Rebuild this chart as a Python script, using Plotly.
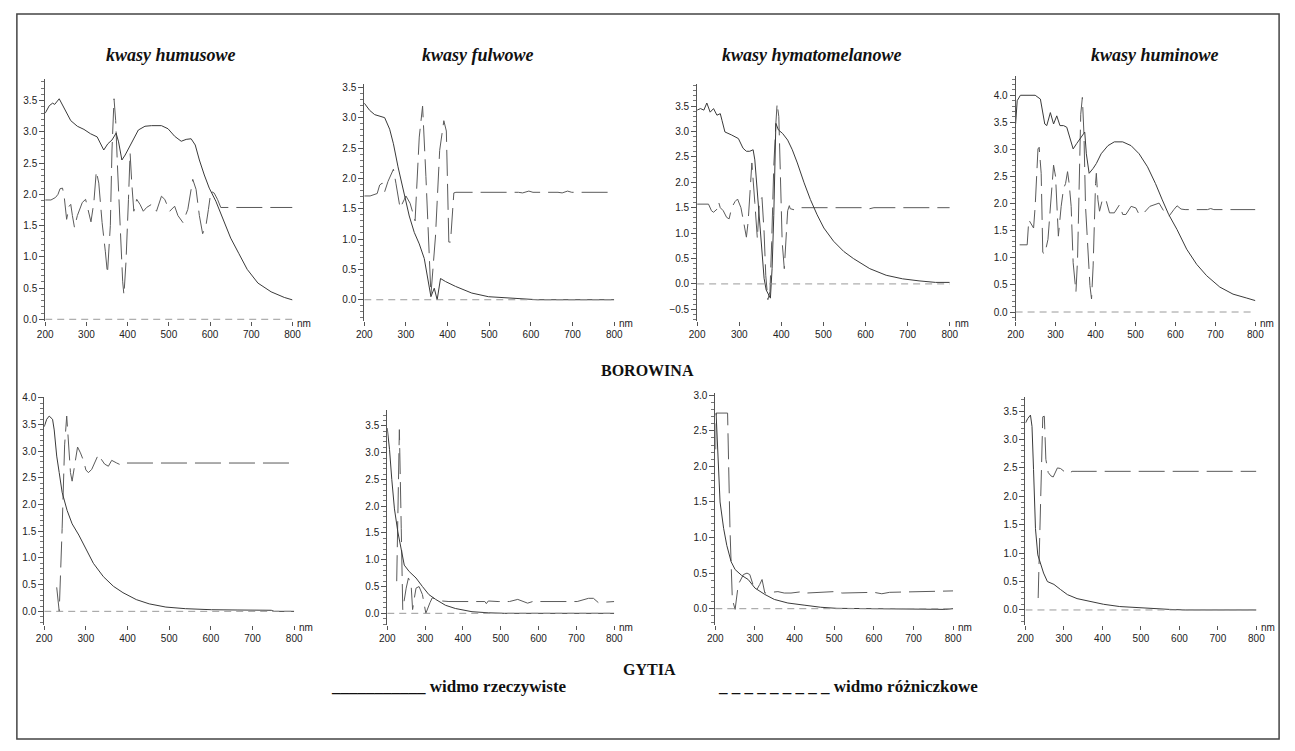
import plotly.graph_objects as go

# ---------------- data: (wavelength nm, value) readings ----------------
# BOROWINA
hum_bor_real = [(200,3.30),(210,3.42),(218,3.46),(223,3.44),(234,3.53),(246,3.39),(262,3.18),(278,3.09),(294,3.04),(310,2.97),(326,2.92),(342,2.71),(352,2.81),(362,2.87),(372,2.98),(378,2.84),(386,2.55),(394,2.63),(410,2.84),(426,3.03),(442,3.09),(458,3.10),(482,3.10),(498,3.05),(514,2.93),(530,2.85),(542,2.88),(554,2.89),(564,2.79),(574,2.55),(586,2.31),(598,2.10),(614,1.89),(630,1.62),(650,1.30),(670,1.05),(690,0.80),(716,0.58),(748,0.44),(780,0.35),(800,0.31)]
hum_bor_diff = [(200,1.91),(214,1.91),(225,1.95),(231,2.00),(236,2.09),(242,2.10),(246,1.97),(252,1.60),(258,1.81),(262,1.84),(266,1.66),(271,1.47),(278,1.66),(290,1.87),(298,1.92),(306,1.68),(311,1.56),(318,1.87),(324,2.37),(330,2.18),(338,1.55),(346,1.08),(351,0.73),(358,1.50),(362,2.71),(367,3.53),(371,3.18),(375,2.50),(382,1.44),(388,0.60),(391,0.39),(396,0.92),(402,1.92),(406,2.66),(410,2.18),(415,1.73),(422,1.92),(430,1.84),(438,1.73),(446,1.79),(458,1.84),(470,1.73),(482,1.97),(490,1.92),(502,1.73),(514,1.81),(522,1.66),(534,1.55),(546,1.76),(558,2.24),(566,2.08),(574,1.66),(582,1.37),(590,1.50),(596,1.76),(602,2.05),(610,2.02),(618,1.92),(626,1.79),(634,1.79),(700,1.79),(710,1.80),(720,1.79),(800,1.79)]

ful_bor_real = [(200,3.24),(213,3.12),(225,3.05),(237,3.03),(249,3.00),(261,2.81),(270,2.57),(281,2.19),(292,1.84),(308,1.38),(320,1.11),(332,0.92),(344,0.68),(352,0.35),(360,0.05),(368,0.19),(375,0.00),(383,0.35),(395,0.30),(419,0.22),(458,0.11),(498,0.05),(537,0.03),(577,0.01),(616,0.00),(800,0.00)]
ful_bor_diff = [(200,1.71),(214,1.71),(231,1.75),(237,1.89),(243,1.92),(249,1.78),(257,1.95),(270,2.15),(276,1.92),(286,1.51),(296,1.65),(300,1.71),(310,1.59),(316,1.43),(322,1.30),(332,2.68),(340,3.19),(348,2.03),(360,0.08),(371,1.05),(381,2.46),(391,2.95),(397,2.78),(403,0.95),(407,0.95),(415,1.76),(420,1.77),(570,1.77),(580,1.76),(595,1.79),(605,1.77),(665,1.77),(675,1.76),(688,1.79),(698,1.77),(800,1.77)]

hym_bor_real = [(200,3.42),(208,3.45),(216,3.42),(223,3.56),(231,3.38),(239,3.45),(247,3.32),(255,3.35),(259,3.22),(266,2.99),(282,2.93),(298,2.86),(309,2.67),(317,2.61),(325,2.61),(333,2.64),(337,2.44),(345,1.60),(353,0.76),(359,0.11),(364,-0.12),(370,-0.21),(374,-0.28),(378,0.30),(382,1.34),(387,3.16),(393,3.03),(403,2.96),(415,2.83),(426,2.64),(438,2.38),(454,1.99),(469,1.66),(485,1.36),(501,1.10),(524,0.84),(548,0.64),(571,0.50),(610,0.30),(649,0.17),(688,0.10),(727,0.06),(766,0.03),(800,0.03)]
hym_bor_diff = [(200,1.57),(227,1.57),(234,1.44),(239,1.41),(247,1.47),(251,1.61),(255,1.50),(262,1.44),(270,1.31),(276,1.28),(282,1.50),(290,1.62),(296,1.67),(304,1.50),(309,1.28),(313,1.08),(317,0.92),(321,1.21),(325,1.80),(330,2.38),(337,1.60),(343,0.89),(348,1.63),(354,1.70),(359,1.02),(363,0.17),(368,-0.31),(373,-0.15),(377,0.82),(382,2.31),(387,3.16),(390,3.55),(394,3.29),(398,1.99),(402,0.82),(407,0.30),(412,1.02),(415,1.44),(419,1.54),(421,1.48),(430,1.46),(440,1.50),(600,1.50),(610,1.48),(620,1.50),(800,1.50)]

hmn_bor_real = [(200,3.47),(204,3.90),(212,4.00),(249,4.00),(262,3.93),(273,3.47),(278,3.44),(287,3.68),(295,3.47),(303,3.62),(311,3.44),(320,3.44),(328,3.41),(336,3.23),(344,3.01),(353,3.11),(361,3.20),(373,3.32),(377,2.92),(384,2.56),(394,2.65),(402,2.74),(414,2.92),(431,3.07),(447,3.14),(468,3.14),(489,3.07),(509,2.92),(530,2.68),(550,2.37),(567,2.07),(583,1.80),(604,1.52),(628,1.16),(653,0.88),(678,0.67),(711,0.46),(744,0.33),(777,0.26),(800,0.21)]
hmn_bor_diff = [(210,1.24),(229,1.24),(233,1.70),(239,1.61),(245,1.55),(249,1.95),(256,3.01),(259,3.04),(264,2.56),(268,1.10),(273,1.07),(281,1.34),(291,2.31),(295,2.71),(300,2.50),(303,1.95),(307,1.40),(314,1.95),(320,2.28),(325,2.37),(330,2.59),(334,2.37),(339,1.95),(344,0.91),(351,0.37),(355,0.97),(359,2.62),(363,3.65),(367,3.96),(371,3.29),(375,1.95),(380,1.22),(386,0.49),(390,0.24),(394,0.85),(400,2.37),(402,2.56),(406,2.07),(410,1.86),(416,2.04),(422,2.10),(426,2.07),(435,1.83),(447,1.83),(460,1.98),(468,1.80),(476,1.80),(489,1.95),(501,1.92),(509,1.80),(521,1.83),(536,1.95),(548,1.98),(559,2.01),(571,1.86),(584,1.77),(596,1.89),(604,1.96),(614,1.90),(624,1.89),(680,1.89),(688,1.91),(696,1.89),(800,1.89)]

# GYTIA
hum_gyt_real = [(200,3.46),(206,3.60),(212,3.66),(220,3.60),(224,3.40),(230,2.91),(236,2.60),(243,2.23),(255,1.89),(267,1.64),(283,1.43),(299,1.18),(318,0.90),(342,0.65),(366,0.47),(389,0.35),(421,0.22),(452,0.14),(492,0.08),(539,0.05),(602,0.03),(665,0.025),(729,0.01),(745,0.02),(752,0.00),(800,0.00)]
hum_gyt_diff = [(230,0.45),(236,0.00),(243,1.55),(249,3.12),(254,3.66),(258,3.09),(263,2.60),(267,2.44),(271,2.65),(275,2.91),(280,3.08),(287,2.97),(295,2.81),(300,2.65),(306,2.60),(314,2.66),(322,2.81),(330,2.94),(337,2.85),(345,2.76),(354,2.72),(362,2.83),(374,2.78),(385,2.74),(397,2.78),(800,2.78)]

ful_gyt_real = [(200,3.46),(206,3.06),(212,2.50),(219,1.95),(228,1.52),(237,1.15),(245,0.90),(258,0.78),(276,0.66),(293,0.50),(310,0.35),(328,0.26),(354,0.15),(380,0.09),(424,0.03),(467,0.01),(510,0.00),(800,0.00)]
ful_gyt_diff = [(225,0.60),(228,1.90),(232,3.43),(237,1.58),(241,0.07),(250,0.47),(256,0.66),(263,0.54),(267,0.07),(272,0.30),(276,0.47),(284,0.50),(293,0.35),(302,0.00),(308,0.12),(313,0.20),(319,0.29),(332,0.26),(345,0.23),(363,0.22),(458,0.22),(462,0.18),(467,0.23),(493,0.22),(523,0.22),(545,0.26),(558,0.22),(571,0.19),(589,0.23),(600,0.22),(702,0.22),(732,0.28),(745,0.28),(758,0.20),(800,0.22)]

hym_gyt_real = [(202,2.75),(207,2.05),(212,1.50),(221,1.13),(229,0.89),(240,0.66),(250,0.55),(266,0.47),(283,0.41),(300,0.29),(325,0.20),(349,0.13),(383,0.08),(424,0.05),(466,0.02),(507,0.005),(590,0.00),(700,0.00),(720,-0.01),(780,-0.01),(800,0.00)]
hym_gyt_diff = [(201,2.24),(202,2.75),(231,2.75),(237,1.13),(243,0.13),(250,-0.01),(258,0.34),(271,0.48),(280,0.50),(287,0.48),(295,0.34),(304,0.26),(312,0.34),(318,0.41),(325,0.22),(341,0.23),(358,0.24),(374,0.22),(391,0.22),(420,0.24),(430,0.22),(500,0.24),(520,0.22),(600,0.23),(620,0.21),(640,0.23),(800,0.25)]

hmn_gyt_real = [(200,3.29),(206,3.37),(213,3.43),(217,3.23),(221,2.47),(226,1.43),(232,0.97),(238,0.85),(247,0.65),(257,0.50),(274,0.45),(291,0.36),(309,0.27),(334,0.20),(360,0.16),(403,0.10),(445,0.06),(488,0.04),(531,0.02),(574,0.01),(616,0.00),(800,0.00)]
hmn_gyt_diff = [(233,0.21),(238,1.78),(242,2.47),(245,3.40),(249,3.41),(253,2.65),(259,2.42),(266,2.36),(272,2.34),(283,2.50),(291,2.49),(304,2.42),(313,2.40),(321,2.44),(334,2.44),(800,2.44)]

titles = ["kwasy humusowe", "kwasy fulwowe", "kwasy hymatomelanowe", "kwasy huminowe"]
row_labels = ["BOROWINA", "GYTIA"]
legend_labels = ["widmo rzeczywiste", "widmo różniczkowe"]
x_ticks = [200, 300, 400, 500, 600, 700, 800]

panels = [
    (hum_bor_real, hum_bor_diff), (ful_bor_real, ful_bor_diff),
    (hym_bor_real, hym_bor_diff), (hmn_bor_real, hmn_bor_diff),
    (hum_gyt_real, hum_gyt_diff), (ful_gyt_real, ful_gyt_diff),
    (hym_gyt_real, hym_gyt_diff), (hmn_gyt_real, hmn_gyt_diff),
]

# ---------------- layout geometry (pixels) ----------------
W, H = 1295, 751
# (x_left, x_right, y_top, y_bottom, y_min, y_max)
geom = [
    (37.7, 288.3, 75, 320, -0.03, 3.845),
    (361.0, 614.3, 80, 320, -0.353, 3.554),
    (698.3, 954.3, 80, 320, -0.733, 3.933),
    (1021.0, 1264.0, 72, 320, -0.169, 4.353),
    (36.7, 290.0, 397, 628, -0.265, 4.013),
    (384.3, 614.3, 410, 628, -0.227, 3.795),
    (716.7, 957.7, 393, 628, -0.236, 3.028),
    (1031.0, 1265.0, 397, 628, -0.273, 3.744),
]

def px(x):
    return x / W

def py(y):
    return 1 - y / H

tick_font = dict(family="Liberation Sans Narrow, Arial Narrow, Liberation Sans, Arial", size=10, color="#222")
serif = "Liberation Serif"

fig = go.Figure()
layout = dict(
    width=W, height=H, margin=dict(l=0, r=0, t=0, b=0),
    paper_bgcolor="white", plot_bgcolor="white", showlegend=False,
)
shapes = []
annotations = []

for i, ((real, diff), g) in enumerate(zip(panels, geom)):
    n = i + 1
    xa = "x" if n == 1 else f"x{n}"
    ya = "y" if n == 1 else f"y{n}"
    xl, xr, yt, yb, ymin, ymax = g
    layout["xaxis" if n == 1 else f"xaxis{n}"] = dict(
        domain=[px(xl), px(xr)], range=[200, 800], anchor=ya,
        tickvals=x_ticks, ticktext=[str(t) for t in x_ticks],
        showline=False, ticks="outside", ticklen=4, tickcolor="#555",
        showgrid=False, zeroline=False, tickfont=tick_font, fixedrange=True,
    )
    layout["yaxis" if n == 1 else f"yaxis{n}"] = dict(
        domain=[py(yb), py(yt)], range=[ymin, ymax], anchor=xa,
        dtick=0.5, tick0=0, tickformat=".1f",
        showline=True, linecolor="#555", linewidth=1,
        ticks="outside", ticklen=5, tickcolor="#555",
        minor=dict(dtick=0.1, tick0=0, ticks="outside", ticklen=3, tickcolor="#777"),
        showgrid=False, zeroline=False, tickfont=tick_font, fixedrange=True,
    )
    # zero reference line
    shapes.append(dict(type="line", xref=xa, yref=ya, x0=200, x1=800, y0=0, y1=0,
                       line=dict(color="#9a9a9a", width=1, dash="7px,5px")))
    fig.add_trace(go.Scatter(x=[p[0] for p in diff], y=[p[1] for p in diff], mode="lines",
                             xaxis=xa, yaxis=ya,
                             line=dict(color="#5a5a5a", width=1, dash="26px,8px")))
    fig.add_trace(go.Scatter(x=[p[0] for p in real], y=[p[1] for p in real], mode="lines",
                             xaxis=xa, yaxis=ya,
                             line=dict(color="#3a3a3a", width=1)))
    annotations.append(dict(text="nm", xref="paper", yref="paper", x=px(xr + 3), y=py(yb + 2),
                            xanchor="left", yanchor="middle", showarrow=False,
                            font=dict(family=tick_font["family"], size=10, color="#222")))

title_cx = [165, 476, 815, 1162]
for t, cx in zip(titles, title_cx):
    annotations.append(dict(text=f"<b><i>{t}</i></b>", xref="paper", yref="paper",
                            x=px(cx), y=py(51), xanchor="center", yanchor="middle",
                            showarrow=False, font=dict(family=serif, size=18, color="#111")))

annotations.append(dict(text=f"<b>{row_labels[0]}</b>", xref="paper", yref="paper",
                        x=px(648), y=py(370), xanchor="center", yanchor="middle",
                        showarrow=False, font=dict(family=serif, size=16, color="#111")))
annotations.append(dict(text=f"<b>{row_labels[1]}</b>", xref="paper", yref="paper",
                        x=px(650), y=py(673), xanchor="center", yanchor="middle",
                        showarrow=False, font=dict(family=serif, size=16, color="#111")))
annotations.append(dict(text=f"<b>___________ {legend_labels[0]}</b>", xref="paper", yref="paper",
                        x=px(325), y=py(690), xanchor="left", yanchor="middle",
                        showarrow=False, font=dict(family=serif, size=17, color="#111")))
annotations.append(dict(text=f"<b>_ _ _ _ _ _ _ _ _ {legend_labels[1]}</b>", xref="paper", yref="paper",
                        x=px(985), y=py(690), xanchor="right", yanchor="middle",
                        showarrow=False, font=dict(family=serif, size=17, color="#111")))

# outer frame
shapes.append(dict(type="rect", xref="paper", yref="paper", x0=px(9), x1=px(1288), y0=py(743), y1=py(9),
                   line=dict(color="#444", width=1.5)))

layout["shapes"] = shapes
layout["annotations"] = annotations
fig.update_layout(**layout)
fig.write_html("out.html")
